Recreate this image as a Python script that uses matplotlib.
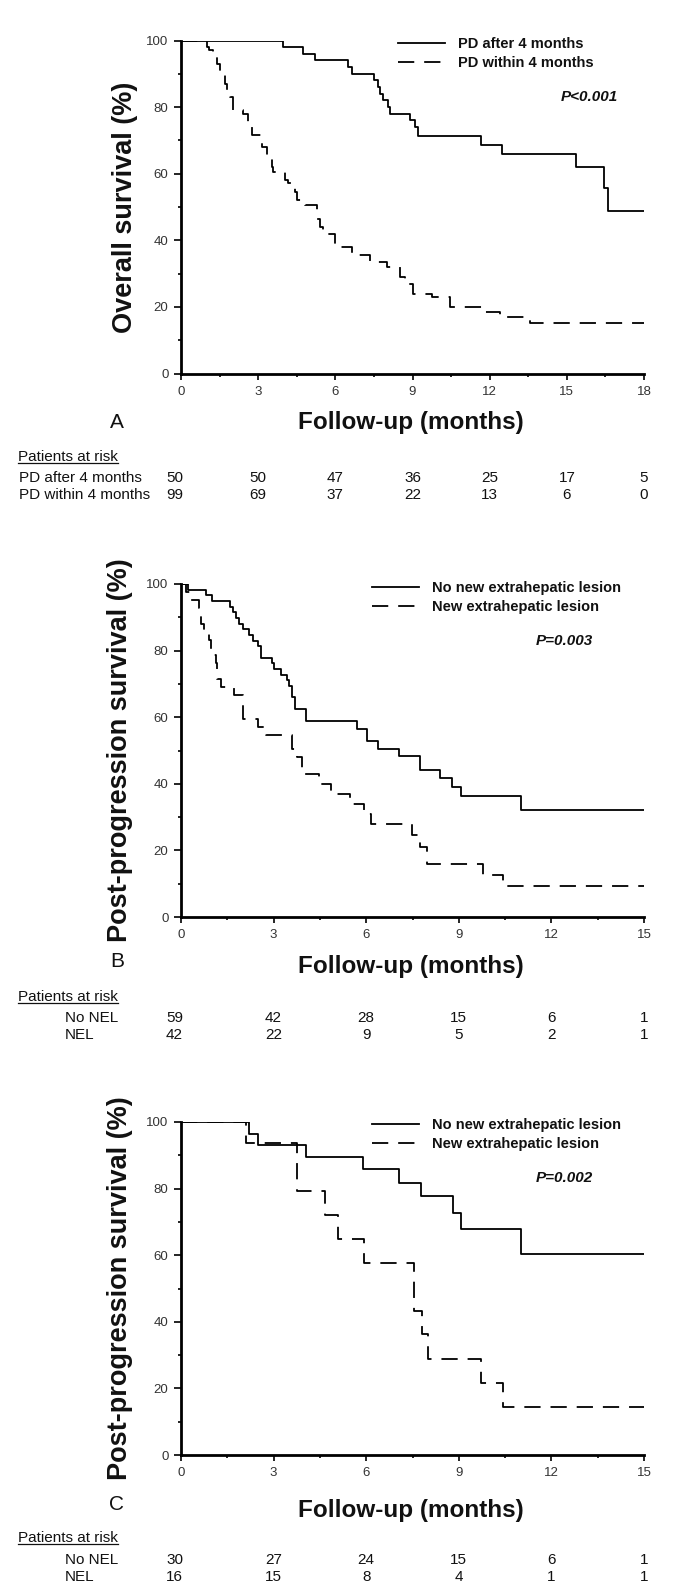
import numpy as np
import matplotlib.pyplot as plt
import matplotlib.transforms as mtransforms
from matplotlib.lines import Line2D

plt.rcParams['font.family'] = ['Liberation Sans', 'DejaVu Sans']

# ---- panel A: overall survival
a_after_t = [0, 3.98, 4.76, 5.21, 6.51, 6.63, 7.50, 7.65, 7.74, 7.87, 8.06, 8.12,
             8.90, 9.10, 9.23, 11.65, 12.47, 15.36, 16.44, 16.61]
a_after_s = [100, 98, 96, 94, 92, 90, 88, 86, 84, 82, 80, 78,
             76, 74, 71.3, 68.7, 65.8, 62, 55.7, 48.8]
a_within_t = [0, 1.0, 1.1, 1.26, 1.4, 1.52, 1.71, 1.80, 1.90, 2.03, 2.42, 2.62, 2.75,
              3.14, 3.36, 3.52, 3.59, 4.04, 4.17, 4.43, 4.52, 4.82, 5.27, 5.40, 5.53,
              5.99, 6.63, 7.35, 8.0, 8.51, 8.71, 9.03, 9.74, 10.46, 11.82, 12.40, 13.57]
a_within_s = [100, 98, 97, 95.5, 93, 90.5, 87, 85, 83, 79, 78, 75.5, 71.5,
              68, 65, 62, 60.5, 58, 57.2, 54.5, 52, 50.5, 46.5, 44, 42,
              38, 35.5, 33.5, 32, 29, 27, 24, 23, 20, 18.5, 17, 15.2]
a_risk_t = [0, 3, 6, 9, 12, 15, 18]
a_risk_after = [50, 50, 47, 36, 25, 17, 5]
a_risk_within = [99, 69, 37, 22, 13, 6, 0]

# ---- panel B: post-progression survival
b_no_t = [0, 0.22, 0.81, 1.02, 1.58, 1.67, 1.78, 1.88, 2.01, 2.19, 2.32, 2.48, 2.58,
          2.96, 3.01, 3.23, 3.45, 3.50, 3.59, 3.69, 4.04, 5.71, 6.03, 6.39, 7.05,
          7.75, 8.40, 8.78, 9.08, 11.02]
b_no_s = [100, 98.3, 96.6, 94.9, 93.2, 91.5, 89.8, 88.1, 86.4, 84.7, 83, 81.3, 77.9,
          76.2, 74.5, 72.8, 71.1, 69.4, 66, 62.6, 58.8, 56.6, 52.8, 50.6, 48.4,
          44, 41.7, 39, 36.3, 32.2]
b_nel_t = [0, 0.15, 0.32, 0.59, 0.65, 0.75, 0.92, 0.97, 1.13, 1.18, 1.29, 1.72, 2.02,
           2.48, 2.75, 3.61, 3.77, 3.93, 4.47, 4.85, 5.49, 5.92, 6.14, 7.48, 7.75,
           7.97, 9.79, 10.42]
b_nel_s = [100, 97.6, 95.2, 92.9, 88.1, 85.7, 83.3, 78.6, 76.2, 71.4, 69, 66.7, 59.5,
           57.1, 54.8, 50.5, 48, 42.8, 40, 37, 34, 31, 28, 24.5, 21,
           16, 12.5, 9.4]
b_risk_t = [0, 3, 6, 9, 12, 15]
b_risk_no = [59, 42, 28, 15, 6, 1]
b_risk_nel = [42, 22, 9, 5, 2, 1]

# ---- panel C: post-progression survival
c_no_t = [0, 2.21, 2.48, 4.04, 5.89, 7.05, 7.76, 8.80, 9.08, 11.02]
c_no_s = [100, 96.5, 93, 89.5, 86, 81.6, 77.7, 72.7, 67.8, 60.5]
c_nel_t = [0, 2.10, 3.77, 4.65, 5.08, 5.94, 7.55, 7.80, 8.00, 9.72, 10.42]
c_nel_s = [100, 93.75, 79.3, 72, 64.8, 57.8, 43.3, 36.3, 28.8, 21.5, 14.4]
c_risk_t = [0, 3, 6, 9, 12, 15]
c_risk_no = [30, 27, 24, 15, 6, 1]
c_risk_nel = [16, 15, 8, 4, 1, 1]

W, H = 677, 1591
fig = plt.figure(figsize=(W / 100, H / 100), dpi=100)
DASH = (0, (9, 5.5))
TXT = '#111111'


def fy(px):
    return 1 - px / H


def panel(bottom_px, xmax, curves, labels, ylabel, ylab_x, pval, pval_xy, leg_xy):
    ax = fig.add_axes([181 / W, fy(bottom_px), 463 / W, 333 / H])
    for (t, s), ls in zip(curves, ['-', DASH]):
        tt = np.append(t, xmax)
        ss = np.append(s, s[-1])
        ax.step(tt, ss, where='post', color='black', lw=1.3, linestyle=ls)
    ax.set_xlim(0, xmax)
    ax.set_ylim(0, 100)
    ax.set_xticks(np.arange(0, xmax + 1, 3))
    ax.set_xticks(np.arange(0, xmax + 0.1, 1.5), minor=True)
    ax.set_yticks(np.arange(0, 101, 20))
    ax.set_yticks(np.arange(0, 101, 10), minor=True)
    for sp in ['top', 'right']:
        ax.spines[sp].set_visible(False)
    for sp in ['left', 'bottom']:
        ax.spines[sp].set_linewidth(2)
    ax.tick_params(which='both', direction='out', width=1.2, colors='black',
                   labelsize=9.5, labelcolor='#333333')
    ax.tick_params(axis='x', which='major', length=4, pad=5)
    ax.tick_params(axis='x', which='minor', length=2)
    ax.tick_params(axis='y', which='major', length=5, pad=4)
    ax.tick_params(axis='y', which='minor', length=2.5)
    ax.set_ylabel(ylabel, fontsize=19.5, fontweight='bold', color=TXT)
    ax.yaxis.set_label_coords(ylab_x, 0.5)
    ax.text(pval_xy[0], pval_xy[1], pval, transform=ax.transAxes, fontsize=11,
            fontweight='bold', fontstyle='italic', ha='center', va='center', color=TXT)
    handles = [Line2D([], [], color='black', lw=1.3, linestyle='-'),
               Line2D([], [], color='black', lw=1.3, linestyle=DASH)]
    leg = ax.legend(handles, labels, loc='upper left', bbox_to_anchor=leg_xy,
                    frameon=False, borderpad=0, borderaxespad=0, handlelength=3.2,
                    handletextpad=0.9, labelspacing=0.35,
                    prop={'weight': 'bold', 'size': 10.5})
    for txt in leg.get_texts():
        txt.set_color(TXT)
    return ax


def titles(letter, y_letter, y_follow):
    fig.text(117 / W, fy(y_letter), letter, fontsize=15, ha='center', va='center',
             color=TXT)
    fig.text(411 / W, fy(y_follow), 'Follow-up (months)', fontsize=17.5,
             fontweight='bold', ha='center', va='center', color=TXT)


def risk_table(ax, times, rows, names, y_head, y_rows, name_x):
    head = fig.text(18 / W, fy(y_head), 'Patients at risk', fontsize=11,
                    va='center', ha='left', color=TXT)
    r = fig.canvas.get_renderer()
    bb = head.get_window_extent(r)
    fig.add_artist(Line2D([bb.x0 / W, bb.x1 / W], [(bb.y0 + 1) / H] * 2,
                          transform=fig.transFigure, lw=0.9, color=TXT))
    tr = mtransforms.blended_transform_factory(ax.transData, fig.transFigure)
    shift = mtransforms.ScaledTranslation(-6.5 / 100, 0, fig.dpi_scale_trans)
    for vals, name, yp in zip(rows, names, y_rows):
        fig.text(name_x / W, fy(yp), name, fontsize=11, va='center', ha='left',
                 color=TXT)
        for i, (t, v) in enumerate(zip(times, vals)):
            trans = tr + shift if i == 0 else tr
            ax.text(t, fy(yp), str(v), transform=trans, fontsize=11, ha='center',
                    va='center', color=TXT, clip_on=False)


# panel A
axA = panel(373.5, 18, [(a_after_t, a_after_s), (a_within_t, a_within_s)],
            ['PD after 4 months', 'PD within 4 months'],
            'Overall survival (%)', -0.092, 'P<0.001', (0.881, 0.830), (0.469, 1.010))
titles('A', 422, 423)
risk_table(axA, a_risk_t, [a_risk_after, a_risk_within],
           ['PD after 4 months', 'PD within 4 months'], 457, [478, 495], 19)

# panel B
axB = panel(917, 15, [(b_no_t, b_no_s), (b_nel_t, b_nel_s)],
            ['No new extrahepatic lesion', 'New extrahepatic lesion'],
            'Post-progression survival (%)', -0.103, 'P=0.003', (0.829, 0.829),
            (0.4125, 1.008))
titles('B', 962, 966)
risk_table(axB, b_risk_t, [b_risk_no, b_risk_nel], ['No NEL', 'NEL'],
           997, [1018, 1035], 65)

# panel C
axC = panel(1455, 15, [(c_no_t, c_no_s), (c_nel_t, c_nel_s)],
            ['No new extrahepatic lesion', 'New extrahepatic lesion'],
            'Post-progression survival (%)', -0.103, 'P=0.002', (0.829, 0.832),
            (0.4125, 1.012))
titles('C', 1505, 1510)
risk_table(axC, c_risk_t, [c_risk_no, c_risk_nel], ['No NEL', 'NEL'],
           1538, [1560, 1577], 65)

fig.savefig('out.png', dpi=100)
